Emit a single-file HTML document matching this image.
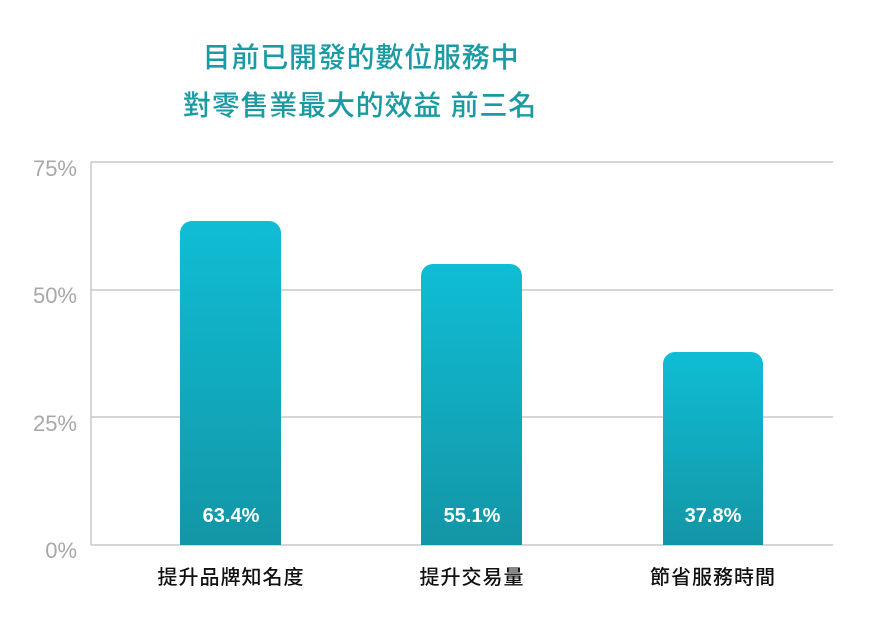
<!DOCTYPE html>
<html><head><meta charset="utf-8"><style>
body{margin:0;background:#fff;width:870px;height:615px;overflow:hidden;font-family:"Liberation Sans","Noto Sans CJK TC",sans-serif;}
</style></head><body>
<svg width="870" height="615" xmlns="http://www.w3.org/2000/svg">
<defs><linearGradient id="g" x1="0" y1="0" x2="0" y2="1"><stop offset="0" stop-color="#0fbdd5"/><stop offset="1" stop-color="#1396a6"/></linearGradient></defs>
<g font-family="'Liberation Sans','Noto Sans CJK TC',sans-serif" fill="#1a9aa2" font-size="28" font-weight="500" text-anchor="middle" letter-spacing="0.8">
<text x="361" y="67">目前已開發的數位服務中</text>
<text x="360" y="115">對零售業最大的效益 前三名</text>
</g>
<g stroke="#c8c8c8" stroke-width="1.5">
<line x1="91" y1="162" x2="833" y2="162"/><line x1="91" y1="290" x2="833" y2="290"/><line x1="91" y1="417" x2="833" y2="417"/><line x1="91" y1="545" x2="833" y2="545"/>
<line x1="91" y1="162" x2="91" y2="545"/>
</g>
<g fill="#a8a8a8" font-size="22" text-anchor="end" font-family="'Liberation Sans',sans-serif">
<text x="77" y="176">75%</text><text x="77" y="303">50%</text><text x="77" y="431">25%</text><text x="77" y="558">0%</text>
</g>
<g fill="url(#g)">
<path d="M180 545V233a12 12 0 0 1 12-12h77a12 12 0 0 1 12 12V545z"/>
<path d="M421 545V276a12 12 0 0 1 12-12h77a12 12 0 0 1 12 12V545z"/>
<path d="M663 545V364a12 12 0 0 1 12-12h76a12 12 0 0 1 12 12V545z"/>
</g>
<g fill="#fff" font-size="20" font-weight="bold" text-anchor="middle" font-family="'Liberation Sans',sans-serif">
<text x="231" y="522">63.4%</text><text x="472" y="522">55.1%</text><text x="713" y="522">37.8%</text>
</g>
<g fill="#111" font-size="20" font-weight="500" text-anchor="middle" letter-spacing="1">
<text x="231" y="584">提升品牌知名度</text><text x="472" y="584">提升交易量</text><text x="713" y="584">節省服務時間</text>
</g>
</svg>
</body></html>
